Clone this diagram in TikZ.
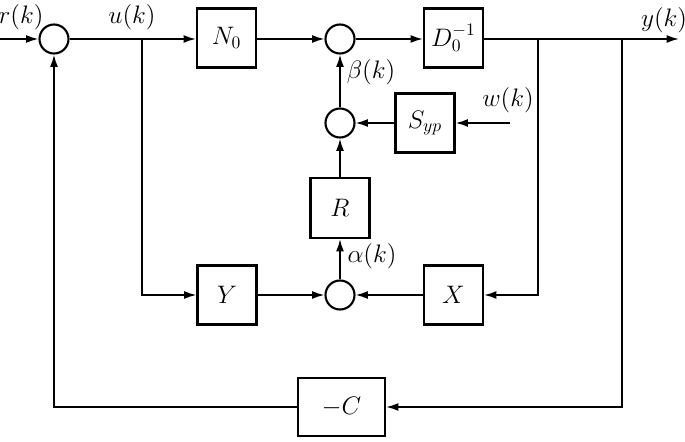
\documentclass[tikz,border=0pt]{standalone}
\usetikzlibrary{arrows.meta}
\begin{document}
\begin{tikzpicture}[x=0.02cm,y=-0.02cm,
  line width=1pt,
  font=\fontsize{13.8}{16}\selectfont,
  blk/.style={draw,line width=1.2pt,minimum width=59*0.02cm,minimum height=59*0.02cm,inner sep=0pt},
  sumc/.style={draw,circle,line width=1.2pt,minimum size=29*0.02cm,inner sep=0pt},
  arr/.style={-{Latex[length=7pt,width=4.5pt]}},
  lbl/.style={inner sep=0pt}]
\useasboundingbox (0,0) rectangle (685,442);
% nodes
\node[sumc] (s1) at (54,39) {};
\node[sumc] (s2) at (340,39) {};
\node[sumc] (s4) at (340,123) {};
\node[sumc] (s3) at (340,295) {};
\node[blk] (N) at (226.5,38) {$N_0$};
\node[blk] (D) at (453.5,38) {$D_0^{-1}$};
\node[blk] (S) at (425,123) {$S_{yp}$};
\node[blk,minimum height=60*0.02cm] (R) at (340,208) {$R$};
\node[blk] (Y) at (227,295) {$Y$};
\node[blk] (X) at (453.5,295) {$X$};
\node[blk,minimum width=87*0.02cm,minimum height=58*0.02cm] (C) at (341.5,407) {$-C$};
% coordinates
\coordinate (in) at (0,39);
\coordinate (out) at (679,39);
\coordinate (ju) at (142,39);
\coordinate (jy1) at (538,39);
\coordinate (jy2) at (622,39);
\coordinate (w) at (510,123);
% labels
\node[lbl] (lr) at (21,17) {$r(k)$};
\node[lbl] (lu) at (132,17) {$u(k)$};
\node[lbl] (ly) at (664,20) {$y(k)$};
\node[lbl] (lw) at (508,100) {$w(k)$};
\node[lbl] (lb) at (371,72) {$\beta(k)$};
\node[lbl] (la) at (372,256) {$\alpha(k)$};
% connectors
\draw[arr] (in) -- (s1.west);
\draw[arr] (s1.east) -- (N.west |- s1.east);
\draw[arr] (N.east |- s2.west) -- (s2.west);
\draw[arr] (s2.east) -- (D.west |- s2.east);
\draw[arr] (D.east |- out) -- (out);
\draw[arr] (ju) |- (Y.west);
\draw[arr] (Y.east) -- (s3.west);
\draw[arr] (jy1) |- (X.east);
\draw[arr] (X.west) -- (s3.east);
\draw[arr] (s3.north) -- (R.south);
\draw[arr] (R.north) -- (s4.south);
\draw[arr] (w) -- (S.east);
\draw[arr] (S.west) -- (s4.east);
\draw[arr] (s4.north) -- (s2.south);
\draw[arr] (jy2) |- (C.east);
\draw[arr] (C.west) -| (s1.south);
\end{tikzpicture}
\end{document}
